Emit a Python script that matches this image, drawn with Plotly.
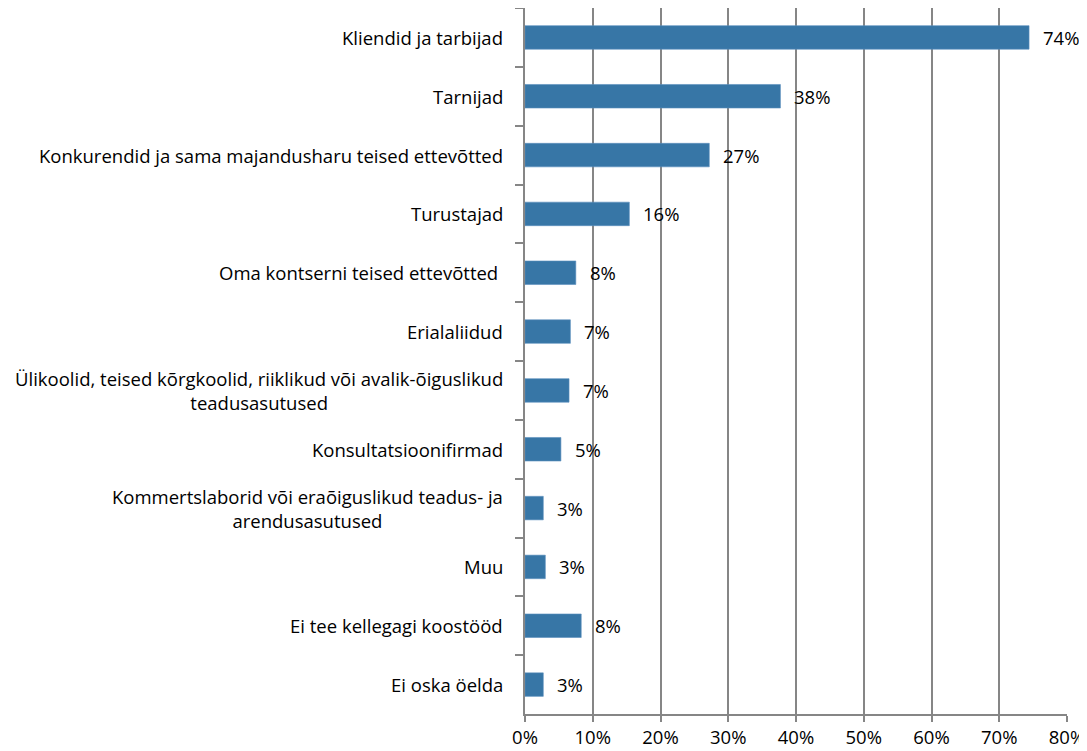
import plotly.graph_objects as go

categories = [
    "Kliendid ja tarbijad",
    "Tarnijad",
    "Konkurendid ja sama majandusharu teised ettevõtted",
    "Turustajad",
    "Oma kontserni teised ettevõtted ",
    "Erialaliidud",
    "Ülikoolid, teised kõrgkoolid, riiklikud või avalik-õiguslikud<br>teadusasutused",
    "Konsultatsioonifirmad",
    "Kommertslaborid või eraõiguslikud teadus- ja<br>arendusasutused",
    "Muu",
    "Ei tee kellegagi koostööd",
    "Ei oska öelda",
]
values = [74.4, 37.7, 27.2, 15.4, 7.5, 6.7, 6.5, 5.3, 2.7, 3.0, 8.3, 2.7]
value_labels = ["74%", "38%", "27%", "16%", "8%", "7%", "7%", "5%", "3%", "3%", "8%", "3%"]
x_ticks = [0, 10, 20, 30, 40, 50, 60, 70, 80]
x_tick_labels = ["0%", "10%", "20%", "30%", "40%", "50%", "60%", "70%", "80%"]

FONT = "Open Sans"
FS = 18.5
fig = go.Figure()
fig.add_trace(go.Bar(
    x=values, y=categories, orientation="h",
    marker=dict(color="#3776A6", line=dict(color="#5a8fbd", width=0.6)),
    hoverinfo="skip",
))

annotations = []
for c, v, t in zip(categories, values, value_labels):
    annotations.append(dict(x=v, y=c, xref="x", yref="y", text=t, showarrow=False,
                            xanchor="left", xshift=12, font=dict(family=FONT, size=FS, color="#000")))
    annotations.append(dict(x=0, y=c, xref="paper", yref="y", text=c, showarrow=False,
                            xanchor="right", xshift=-20, align="center",
                            font=dict(family=FONT, size=FS, color="#000")))

fig.update_layout(
    width=1079, height=743,
    margin=dict(l=517, r=20, t=0, b=37),
    paper_bgcolor="white", plot_bgcolor="white",
    bargap=0.6,
    showlegend=False,
    annotations=annotations,
    xaxis=dict(range=[0, 80], tickvals=x_ticks, ticktext=x_tick_labels,
               showgrid=True, gridcolor="#868686", gridwidth=1.6,
               showline=True, linecolor="#868686", linewidth=1.6,
               ticks="outside", ticklen=6, tickcolor="#868686", tickwidth=1.6,
               tickfont=dict(family=FONT, size=FS, color="#000"), zeroline=False),
    yaxis=dict(autorange="reversed", showticklabels=False, tickson="boundaries",
               ticks="outside", ticklen=8, tickcolor="#868686", tickwidth=1.6,
               showline=True, linecolor="#868686", linewidth=1.6, showgrid=False),
)

fig.write_html("out.html")
